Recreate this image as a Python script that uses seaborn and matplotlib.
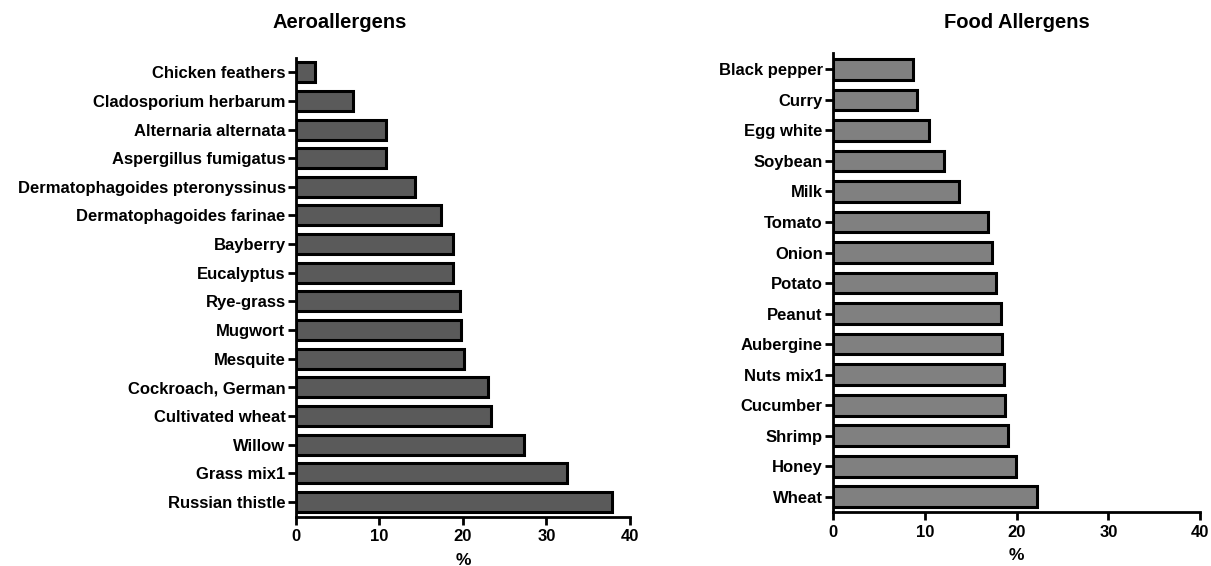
import pandas as pd
import numpy as np
import seaborn as sns
import matplotlib.pyplot as plt

aero_names = ['Chicken feathers', 'Cladosporium herbarum', 'Alternaria alternata',
              'Aspergillus fumigatus', 'Dermatophagoides pteronyssinus',
              'Dermatophagoides farinae', 'Bayberry', 'Eucalyptus', 'Rye-grass',
              'Mugwort', 'Mesquite', 'Cockroach, German', 'Cultivated wheat',
              'Willow', 'Grass mix1', 'Russian thistle']
aero_pct = [2.3, 6.8, 10.8, 10.8, 14.3, 17.4, 18.8, 18.8, 19.7, 19.8, 20.1,
            23.0, 23.4, 27.3, 32.4, 37.9]

food_names = ['Black pepper', 'Curry', 'Egg white', 'Soybean', 'Milk', 'Tomato',
              'Onion', 'Potato', 'Peanut', 'Aubergine', 'Nuts mix1', 'Cucumber',
              'Shrimp', 'Honey', 'Wheat']
food_pct = [8.7, 9.1, 10.5, 12.1, 13.7, 16.9, 17.3, 17.7, 18.3, 18.4, 18.6,
            18.7, 19.1, 19.9, 22.2]

xticks = [0, 10, 20, 30, 40]

sns.set_style("ticks")
plt.rcParams['font.family'] = ['Liberation Sans', 'DejaVu Sans']
plt.rcParams['font.weight'] = 'bold'
plt.rcParams['text.color'] = 'black'
plt.rcParams['xtick.color'] = 'black'
plt.rcParams['ytick.color'] = 'black'
plt.rcParams['axes.labelcolor'] = 'black'

fig = plt.figure(figsize=(12.11, 5.66), dpi=100)
ax1 = fig.add_axes([0.2444, 0.0866, 0.2758, 0.811])
ax2 = fig.add_axes([0.688, 0.0954, 0.303, 0.8106])

df_aero = pd.DataFrame({'name': aero_names, 'pct': aero_pct})
df_food = pd.DataFrame({'name': food_names, 'pct': food_pct})

sns.barplot(data=df_aero, x='pct', y='name', orient='h', color='#5a5a5a',
            saturation=1, edgecolor='black', linewidth=2.2, width=0.7, ax=ax1)
sns.barplot(data=df_food, x='pct', y='name', orient='h', color='#808080',
            saturation=1, edgecolor='black', linewidth=2.2, width=0.68, ax=ax2)

ax1.set_ylim(len(aero_names) - 0.47, -0.5)
ax2.set_ylim(len(food_names) - 0.5, -0.53)

for ax in (ax1, ax2):
    ax.set_xlim(0, 40)
    ax.set_xticks(xticks)
    ax.set_xlabel('%', fontsize=12.5, fontweight='bold', labelpad=6)
    ax.set_ylabel('')
    sns.despine(ax=ax)
    for s in ('left', 'bottom'):
        ax.spines[s].set_linewidth(2)
        ax.spines[s].set_color('black')
    ax.tick_params(axis='both', width=2, length=6, color='black',
                   labelsize=12, pad=1.5)
    ax.tick_params(axis='x', pad=3)
    for lab in ax.get_xticklabels() + ax.get_yticklabels():
        lab.set_fontweight('bold')

fig.text(340 / 1211, 1 - 23 / 566, 'Aeroallergens', ha='center', va='center',
         fontsize=14.5, fontweight='bold')
fig.text(1017 / 1211, 1 - 22 / 566, 'Food Allergens', ha='center', va='center',
         fontsize=14.5, fontweight='bold')

fig.savefig('out.png', dpi=100)
